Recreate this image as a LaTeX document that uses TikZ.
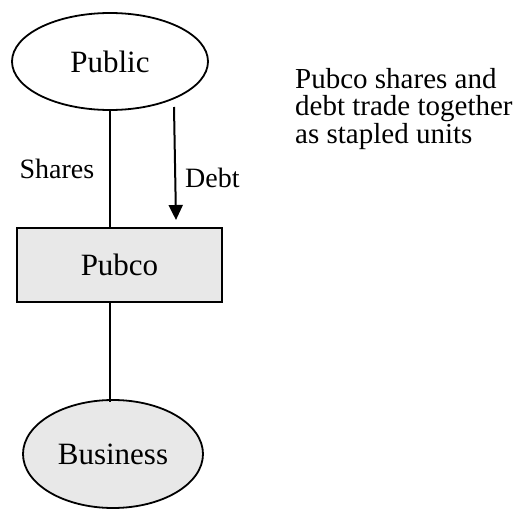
\documentclass[tikz,border=0pt]{standalone}
\usepackage{fontspec}
\setmainfont{Liberation Serif}
\usetikzlibrary{shapes.geometric,arrows.meta}
\definecolor{boxgray}{HTML}{E8E8E8}
\tikzset{
  entity/.style={ellipse, draw=black, line width=1.8pt, inner sep=0pt,
    font=\fontsize{31}{33}\selectfont},
  vehicle/.style={rectangle, draw=black, line width=1.8pt, fill=boxgray,
    inner sep=0pt, font=\fontsize{31}{33}\selectfont},
  link/.style={draw=black, line width=1.8pt},
  flow/.style={draw=black, line width=2pt, -{Triangle[width=14pt,length=15pt]}},
  tag/.style={inner sep=0pt, font=\fontsize{28}{30}\selectfont},
}
\begin{document}
\begin{tikzpicture}[x=1pt,y=-1pt]
  \useasboundingbox (0,0) rectangle (515,514);

  % parties and the stapled vehicle
  \node[entity, minimum width=196pt, minimum height=97pt] (public) at (110,61.5) {Public};
  \node[vehicle, minimum width=205pt, minimum height=74pt] (pubco) at (119.5,265) {Pubco};
  \node[entity, fill=boxgray, minimum width=180pt, minimum height=108pt] (business) at (113,454) {Business};

  % connectors
  \draw[link] (public.south) -- (public.south |- pubco.north);
  \draw[link] (pubco.south -| public.south) -- ([yshift=-3pt]public.south |- business.north);

  \coordinate (debtfrom) at (174,107);
  \coordinate (debtto) at (176,220);
  \draw[flow] (debtfrom) -- (debtto);

  % labels
  \node[tag] (shares) at (57,169) {Shares};
  \node[tag, anchor=west] (debt) at (185,178) {Debt};

  \node[tag, anchor=north west, align=left, font=\fontsize{29}{27.5}\selectfont]
    (note) at (295,68) {Pubco shares and\\debt trade together\\as stapled units};
\end{tikzpicture}
\end{document}
